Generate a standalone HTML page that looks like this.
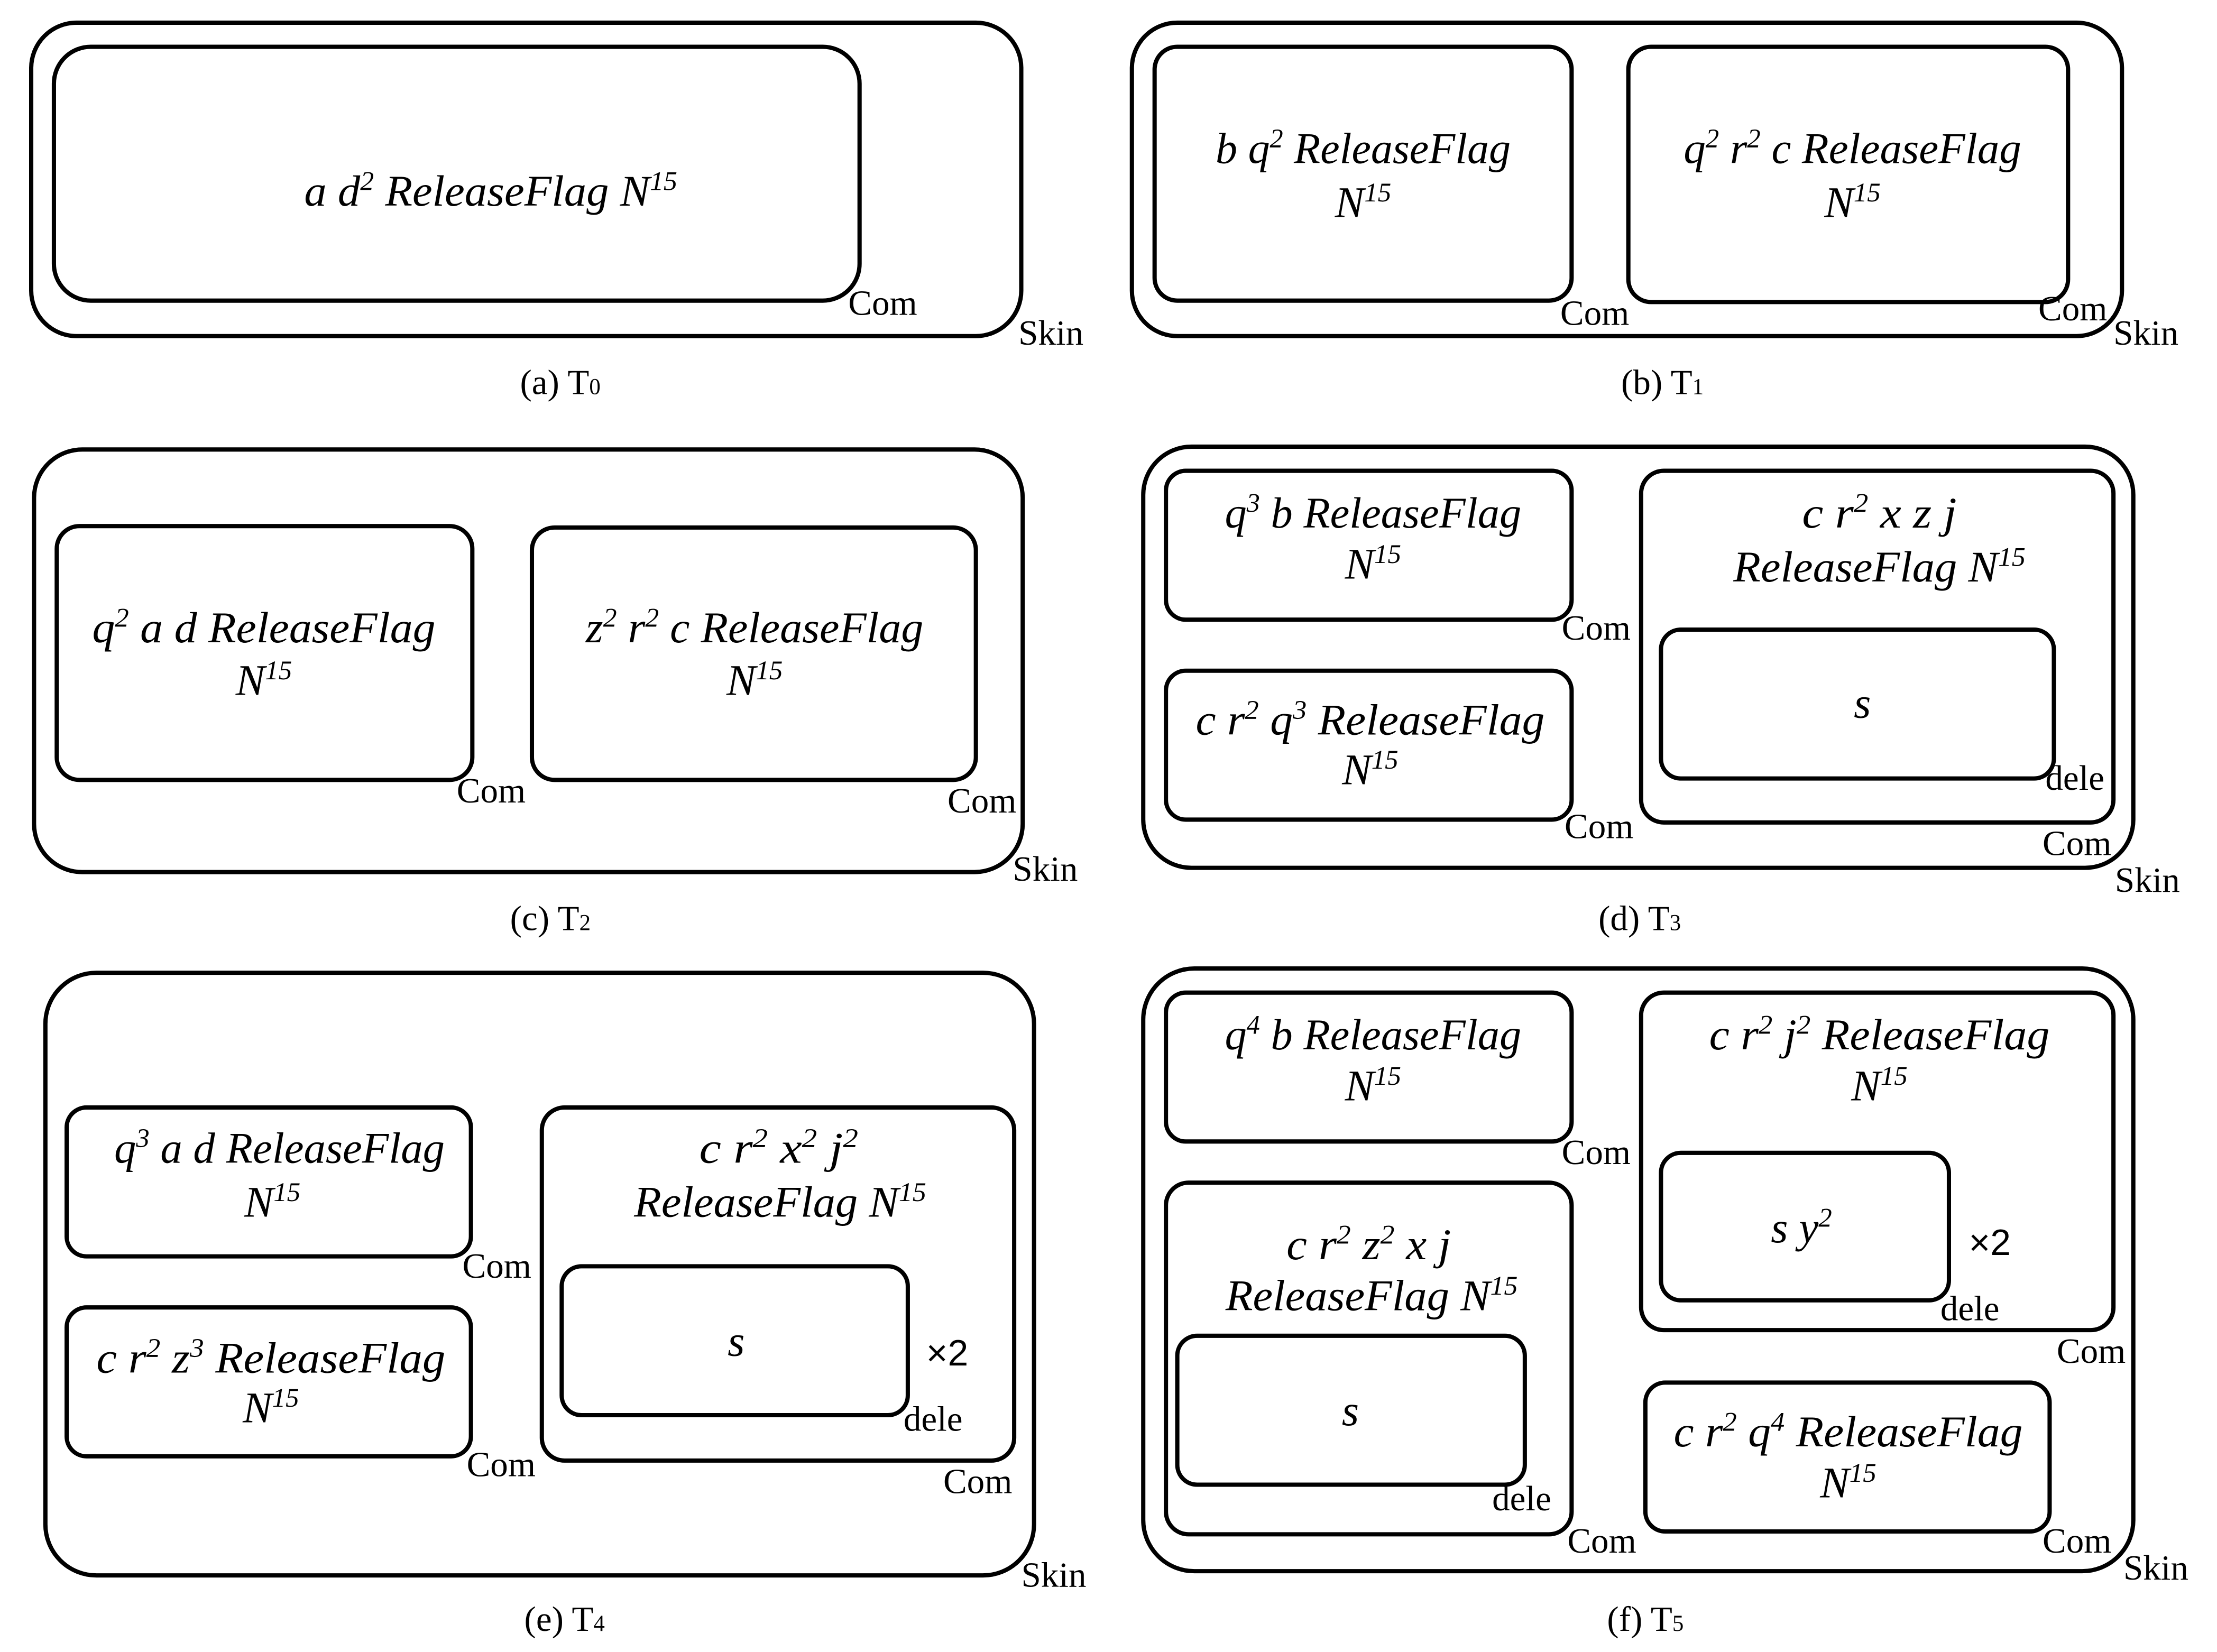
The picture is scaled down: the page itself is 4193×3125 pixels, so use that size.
<!DOCTYPE html>
<html><head><meta charset="utf-8"><style>
html,body{margin:0;padding:0;background:#fff;}
svg{display:block;}
.m{font-family:"Liberation Serif",serif;font-style:italic;font-size:31px;text-anchor:middle;}
.l{font-family:"Liberation Serif",serif;font-size:25px;}
.c{font-family:"Liberation Serif",serif;font-size:25px;text-anchor:middle;}
.x{font-family:"Liberation Sans",sans-serif;font-size:26px;}
rect{fill:none;stroke:#000;stroke-width:3;}
</style></head><body>
<svg width="4193" height="3125" viewBox="0 0 1563 1165" preserveAspectRatio="none" xmlns="http://www.w3.org/2000/svg">
<!-- (a) -->
<rect x="22" y="16" width="698" height="221" rx="32"/>
<rect x="38" y="33" width="568" height="179" rx="26"/>
<text class="m" x="346" y="145" textLength="263" lengthAdjust="spacingAndGlyphs">a d<tspan dy="-11" font-size="19">2</tspan><tspan dy="11"> ReleaseFlag N</tspan><tspan dy="-11" font-size="19">15</tspan></text>
<text class="l" x="598" y="222">Com</text>
<text class="l" x="718" y="243">Skin</text>
<text class="c" x="395" y="278">(a) T<tspan font-size="16">0</tspan></text>
<!-- (b) -->
<rect x="798" y="16" width="698" height="221" rx="32"/>
<rect x="814" y="33" width="294" height="179" rx="16"/>
<rect x="1148" y="33" width="310" height="180" rx="16"/>
<text class="m" x="961" y="115" textLength="208" lengthAdjust="spacingAndGlyphs">b q<tspan dy="-11" font-size="19">2</tspan><tspan dy="11"> ReleaseFlag</tspan></text>
<text class="m" x="961" y="153">N<tspan dy="-11" font-size="19">15</tspan></text>
<text class="m" x="1306" y="115" textLength="238" lengthAdjust="spacingAndGlyphs">q<tspan dy="-11" font-size="19">2</tspan><tspan dy="11"> r</tspan><tspan dy="-11" font-size="19">2</tspan><tspan dy="11"> c ReleaseFlag</tspan></text>
<text class="m" x="1306" y="153">N<tspan dy="-11" font-size="19">15</tspan></text>
<text class="l" x="1100" y="229">Com</text>
<text class="l" x="1437" y="226">Com</text>
<text class="l" x="1490" y="243">Skin</text>
<text class="c" x="1172" y="278">(b) T<tspan font-size="16">1</tspan></text>
<!-- (c) -->
<rect x="24" y="317" width="697" height="298" rx="34"/>
<rect x="40" y="371" width="293" height="179" rx="16"/>
<rect x="375" y="372" width="313" height="178" rx="16"/>
<text class="m" x="186" y="453" textLength="242" lengthAdjust="spacingAndGlyphs">q<tspan dy="-11" font-size="19">2</tspan><tspan dy="11"> a  d ReleaseFlag</tspan></text>
<text class="m" x="186" y="490">N<tspan dy="-11" font-size="19">15</tspan></text>
<text class="m" x="532" y="453" textLength="238" lengthAdjust="spacingAndGlyphs">z<tspan dy="-11" font-size="19">2</tspan><tspan dy="11"> r</tspan><tspan dy="-11" font-size="19">2</tspan><tspan dy="11"> c ReleaseFlag</tspan></text>
<text class="m" x="532" y="490">N<tspan dy="-11" font-size="19">15</tspan></text>
<text class="l" x="322" y="566">Com</text>
<text class="l" x="668" y="573">Com</text>
<text class="l" x="714" y="621">Skin</text>
<text class="c" x="388" y="656">(c) T<tspan font-size="16">2</tspan></text>
<!-- (d) -->
<rect x="806" y="315" width="698" height="297" rx="34"/>
<rect x="822" y="332" width="286" height="105" rx="14"/>
<rect x="822" y="473" width="286" height="105" rx="14"/>
<rect x="1157" y="332" width="333" height="248" rx="16"/>
<rect x="1171" y="444" width="277" height="105" rx="14"/>
<text class="m" x="968" y="372" textLength="209" lengthAdjust="spacingAndGlyphs">q<tspan dy="-11" font-size="19">3</tspan><tspan dy="11"> b ReleaseFlag</tspan></text>
<text class="m" x="968" y="408">N<tspan dy="-11" font-size="19">15</tspan></text>
<text class="m" x="966" y="518" textLength="246" lengthAdjust="spacingAndGlyphs">c r<tspan dy="-11" font-size="19">2</tspan><tspan dy="11"> q</tspan><tspan dy="-11" font-size="19">3</tspan><tspan dy="11">  ReleaseFlag</tspan></text>
<text class="m" x="966" y="553">N<tspan dy="-11" font-size="19">15</tspan></text>
<text class="m" x="1325" y="372" textLength="109" lengthAdjust="spacingAndGlyphs">c r<tspan dy="-11" font-size="19">2</tspan><tspan dy="11"> x z j</tspan></text>
<text class="m" x="1325" y="410" textLength="206" lengthAdjust="spacingAndGlyphs">ReleaseFlag N<tspan dy="-11" font-size="19">15</tspan></text>
<text class="m" x="1313" y="506">s</text>
<text class="l" x="1442" y="557">dele</text>
<text class="l" x="1101" y="451">Com</text>
<text class="l" x="1103" y="591">Com</text>
<text class="l" x="1440" y="603">Com</text>
<text class="l" x="1491" y="629">Skin</text>
<text class="c" x="1156" y="656">(d) T<tspan font-size="16">3</tspan></text>
<!-- (e) -->
<rect x="32" y="686" width="697" height="425" rx="36"/>
<rect x="47" y="781" width="285" height="105" rx="14"/>
<rect x="47" y="922" width="285" height="105" rx="14"/>
<rect x="382" y="781" width="333" height="249" rx="16"/>
<rect x="396" y="893" width="244" height="105" rx="14"/>
<text class="m" x="197" y="820" textLength="233" lengthAdjust="spacingAndGlyphs">q<tspan dy="-11" font-size="19">3</tspan><tspan dy="11"> a d ReleaseFlag</tspan></text>
<text class="m" x="192" y="858">N<tspan dy="-11" font-size="19">15</tspan></text>
<text class="m" x="191" y="968" textLength="246" lengthAdjust="spacingAndGlyphs">c r<tspan dy="-11" font-size="19">2</tspan><tspan dy="11"> z</tspan><tspan dy="-11" font-size="19">3</tspan><tspan dy="11">  ReleaseFlag</tspan></text>
<text class="m" x="191" y="1003">N<tspan dy="-11" font-size="19">15</tspan></text>
<text class="m" x="549" y="820" textLength="112" lengthAdjust="spacingAndGlyphs">c r<tspan dy="-11" font-size="19">2</tspan><tspan dy="11"> x</tspan><tspan dy="-11" font-size="19">2</tspan><tspan dy="11">  j</tspan><tspan dy="-11" font-size="19">2</tspan></text>
<text class="m" x="550" y="858" textLength="206" lengthAdjust="spacingAndGlyphs">ReleaseFlag N<tspan dy="-11" font-size="19">15</tspan></text>
<text class="m" x="519" y="956">s</text>
<text class="x" x="653" y="963">×2</text>
<text class="l" x="637" y="1009">dele</text>
<text class="l" x="326" y="901">Com</text>
<text class="l" x="329" y="1041">Com</text>
<text class="l" x="665" y="1053">Com</text>
<text class="l" x="720" y="1119">Skin</text>
<text class="c" x="398" y="1150">(e) T<tspan font-size="16">4</tspan></text>
<!-- (f) -->
<rect x="806" y="683" width="698" height="425" rx="36"/>
<rect x="822" y="700" width="286" height="105" rx="14"/>
<rect x="822" y="834" width="286" height="248" rx="16"/>
<rect x="830" y="942" width="245" height="105" rx="14"/>
<rect x="1157" y="700" width="333" height="238" rx="16"/>
<rect x="1171" y="813" width="203" height="104" rx="14"/>
<rect x="1160" y="975" width="285" height="105" rx="14"/>
<text class="m" x="968" y="740" textLength="209" lengthAdjust="spacingAndGlyphs">q<tspan dy="-11" font-size="19">4</tspan><tspan dy="11"> b ReleaseFlag</tspan></text>
<text class="m" x="968" y="776">N<tspan dy="-11" font-size="19">15</tspan></text>
<text class="m" x="965" y="888" textLength="116" lengthAdjust="spacingAndGlyphs">c r<tspan dy="-11" font-size="19">2</tspan><tspan dy="11"> z</tspan><tspan dy="-11" font-size="19">2</tspan><tspan dy="11"> x j</tspan></text>
<text class="m" x="967" y="924" textLength="206" lengthAdjust="spacingAndGlyphs">ReleaseFlag N<tspan dy="-11" font-size="19">15</tspan></text>
<text class="m" x="952" y="1005">s</text>
<text class="m" x="1325" y="740" textLength="240" lengthAdjust="spacingAndGlyphs">c r<tspan dy="-11" font-size="19">2</tspan><tspan dy="11">  j</tspan><tspan dy="-11" font-size="19">2</tspan><tspan dy="11"> ReleaseFlag</tspan></text>
<text class="m" x="1325" y="776">N<tspan dy="-11" font-size="19">15</tspan></text>
<text class="m" x="1270" y="876">s y<tspan dy="-11" font-size="19">2</tspan></text>
<text class="x" x="1388" y="885">×2</text>
<text class="l" x="1368" y="931">dele</text>
<text class="m" x="1303" y="1020" textLength="246" lengthAdjust="spacingAndGlyphs">c r<tspan dy="-11" font-size="19">2</tspan><tspan dy="11"> q</tspan><tspan dy="-11" font-size="19">4</tspan><tspan dy="11">  ReleaseFlag</tspan></text>
<text class="m" x="1303" y="1056">N<tspan dy="-11" font-size="19">15</tspan></text>
<text class="l" x="1052" y="1065">dele</text>
<text class="l" x="1101" y="821">Com</text>
<text class="l" x="1105" y="1095">Com</text>
<text class="l" x="1450" y="961">Com</text>
<text class="l" x="1440" y="1095">Com</text>
<text class="l" x="1497" y="1114">Skin</text>
<text class="c" x="1160" y="1150">(f) T<tspan font-size="16">5</tspan></text>
</svg>
</body></html>
